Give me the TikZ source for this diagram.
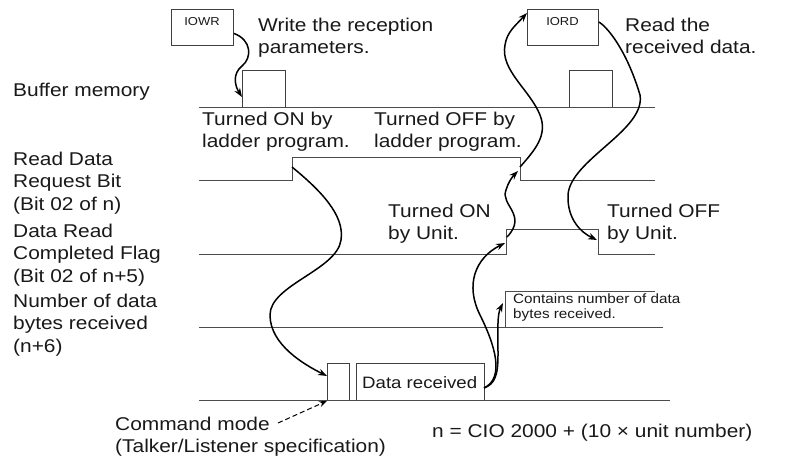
\documentclass[tikz,border=0pt]{standalone}
\usepackage{fontspec}
\setmainfont[FakeStretch=1.13]{Liberation Sans}
\usetikzlibrary{arrows.meta}
\begin{document}
\begin{tikzpicture}[x=1pt,y=-1pt,
  sig/.style={draw=black!70, line width=0.9pt},
  boxs/.style={draw=black!75, line width=0.9pt, inner sep=0pt, anchor=north west},
  flow/.style={draw=black, line width=1.5pt, -{Stealth[length=9pt,width=6.5pt]}},
  lbl/.style={font=\fontsize{18.5}{22.5}\selectfont, align=left, anchor=base west, inner sep=0pt, text=black!90},
  small/.style={font=\fontsize{11.5}{13}\selectfont, anchor=base, inner sep=0pt, text=black!90},
  tiny/.style={font=\fontsize{13.5}{15}\selectfont, align=left, anchor=base west, inner sep=0pt, text=black!90},
  ]
\useasboundingbox (0,0) rectangle (786,461);

% boxes
\node[boxs, minimum width=62pt, minimum height=36pt] (iowr) at (171,9) {};
\node[small] (iowrt) at (202,25) {IOWR};
\node[boxs, minimum width=71pt, minimum height=36pt] (iord) at (527,9) {};
\node[small] (iordt) at (562.5,25) {IORD};
\node[boxs, minimum width=43pt, minimum height=37pt] (buf1) at (242,70) {};
\node[boxs, minimum width=43pt, minimum height=37pt] (buf2) at (569,70) {};
\node[boxs, minimum width=22pt, minimum height=37pt] (cmd) at (327,363) {};
\node[boxs, minimum width=128pt, minimum height=37pt] (drcv) at (356,363) {};
\node[lbl, anchor=base west, font=\fontsize{16.5}{20}\selectfont] (drcvt) at (362,388) {Data received};

% signal lines
\draw[sig] (199,107) -- (655,107);
\draw[sig] (199,180) -- (292,180) -- (292,157) -- (520,157) -- (520,180) -- (655,180);
\draw[sig] (199,254) -- (506,254) -- (506,229) -- (598,229) -- (598,254) -- (655,254);
\draw[sig] (199,327) -- (663,327);
\draw[sig] (505,327) -- (505,291) -- (655,291);
\draw[sig] (199,400) -- (670,400);

% coordinates
\coordinate (reqrise) at (292,167);
\coordinate (reqfall) at (518,171);
\coordinate (reqfallb) at (520,167);
\coordinate (flagrise) at (505,243);
\coordinate (flagriseb) at (507,237);
\coordinate (flagfall) at (597,240);
\coordinate (cont) at (503,303);
\coordinate (cmdtip) at (327,376);
\coordinate (drcvr) at (484,388);
\coordinate (cmdfrom) at (278,423);

% texts (anchor = baseline of last line)
\node[lbl] (t1) at (258,53.5) {Write the reception\\parameters.};
\node[lbl] (t2) at (625,53.5) {Read the\\received data.};
\node[lbl] (t3) at (13,96) {Buffer memory};
\node[lbl] (t4) at (202,147.5) {Turned ON by\\ladder program.};
\node[lbl] (t5) at (374,147.5) {Turned OFF by\\ladder program.};
\node[lbl] (t6) at (13,210) {Read Data\\Request Bit\\(Bit 02 of n)};
\node[lbl] (t7) at (388,239.5) {Turned ON\\by Unit.};
\node[lbl] (t8) at (607,239.5) {Turned OFF\\by Unit.};
\node[lbl] (t9) at (13,282) {Data Read\\Completed Flag\\(Bit 02 of n+5)};
\node[lbl] (t10) at (13,352) {Number of data\\bytes received\\(n+6)};
\node[tiny] (t11) at (513,318) {Contains number of data\\bytes received.};
\node[lbl] (t12) at (115,452.5) {Command mode\\(Talker/Listener specification)};
\node[lbl] (t13) at (432,437) {n = CIO 2000 + (10 × unit number)};

% connectors
\draw[flow] ([yshift=-6pt]iowr.east) .. controls (252,40) and (252,58) .. (242,66)
   .. controls (232,74) and (235,86) .. (242,97);
\draw[flow] (reqrise) .. controls (320,190) and (345,215) .. (341,240)
   .. controls (337,270) and (270,285) .. (270,315)
   .. controls (270,345) and (305,365) .. (cmdtip);
\draw[flow] (drcvr) .. controls (495,384) and (498,375) .. (498,355)
   .. controls (498,330) and (497,315) .. (cont);
\draw[flow] (drcvr) .. controls (505,378) and (495,345) .. (480,315)
   .. controls (465,285) and (475,258) .. (flagrise);
\draw[flow] (flagriseb) .. controls (528,215) and (500,205) .. (506,190)
   .. controls (508,183) and (512,177) .. (reqfall);
\draw[flow] (reqfallb) .. controls (535,150) and (548,135) .. (540,115)
   .. controls (530,90) and (500,70) .. (505,45)
   .. controls (507,32) and (515,26) .. ([yshift=-4pt]iord.north west);
\draw[flow] ([yshift=-13pt]iord.north east) .. controls (606,26) and (626,48) .. (640,95)
   .. controls (646,130) and (570,160) .. (568,195)
   .. controls (567,220) and (582,233) .. (flagfall);
\draw[line width=1pt, dash pattern=on 5pt off 3pt, -{Stealth[length=8pt,width=6pt]}] (cmdfrom) -- (cmd.south west);
\end{tikzpicture}
\end{document}
